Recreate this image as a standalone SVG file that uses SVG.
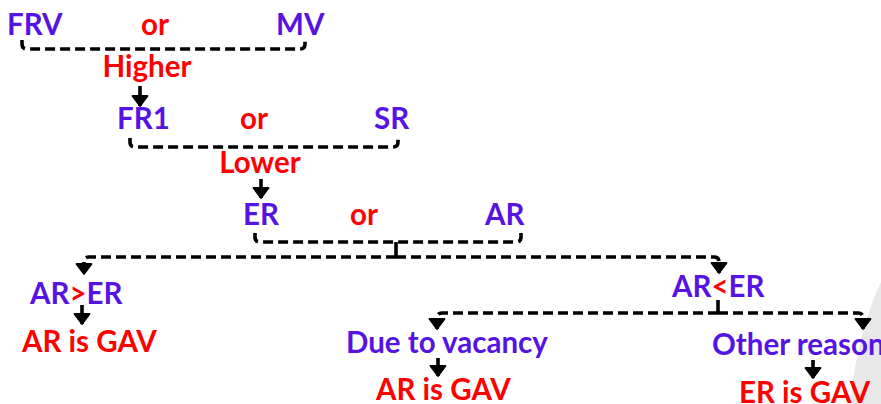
<svg xmlns="http://www.w3.org/2000/svg" width="881" height="404" viewBox="0 0 881 404">
<defs>
<style>
text{font-family:Lato,"Noto Sans","Liberation Sans",sans-serif;font-weight:700;font-size:29.5px}
.p{fill:#5514e4}
.r{fill:#ff0000}
.d{fill:none;stroke:#000;stroke-width:3.6;stroke-dasharray:10 5}
.s{fill:none;stroke:#000;stroke-width:3.6}
</style>
<marker id="ah" markerUnits="userSpaceOnUse" viewBox="-12 -10 14 20" refX="0" refY="0" markerWidth="14" markerHeight="20" orient="auto">
<path d="M0,0 L-10,-7.5 L-10,7.5 Z" fill="#000" stroke="#000" stroke-width="1.8" stroke-linejoin="round"/>
</marker>
</defs>
<rect width="881" height="404" fill="#fff"/>
<path d="M881,282 Q858,330 850,404 H881 Z" fill="#e8e8e8"/>
<g id="connectors">
<path class="d" d="M22,40 V44 Q22,49 27,49 H300 Q305,49 305,44 V40"/>
<path class="s" d="M140,86 V106" marker-end="url(#ah)"/>
<path class="d" d="M130,138 V142 Q130,147 135,147 H393 Q398,147 398,142 V138"/>
<path class="s" d="M261,179 V198" marker-end="url(#ah)"/>
<path class="d" d="M255,233 V237 Q255,242 260,242 H516 Q521,242 521,237 V233"/>
<path class="s" d="M396,242 V257"/>
<path class="d" d="M396,257 H89 Q84,257 84,262 V274" marker-end="url(#ah)"/>
<path class="d" d="M396,257 H714 Q719,257 719,262 V273" marker-end="url(#ah)"/>
<path class="s" d="M82,305 V324" marker-end="url(#ah)"/>
<path class="s" d="M718,300 V313"/>
<path class="d" d="M718,313 H442 Q437,313 437,318 V329" marker-end="url(#ah)"/>
<path class="d" d="M718,313 H858 Q863,313 863,318 V329" marker-end="url(#ah)"/>
<path class="s" d="M438,358 V376" marker-end="url(#ah)"/>
<path class="s" d="M813,360 V378" marker-end="url(#ah)"/>
</g>
<g id="n-frv"><text class="p" x="7" y="35">FRV</text></g>
<g id="n-or1"><text class="r" x="155" y="35" text-anchor="middle">or</text></g>
<g id="n-mv"><text class="p" x="276" y="35">MV</text></g>
<g id="n-higher"><text class="r" x="147" y="77" text-anchor="middle">Higher</text></g>
<g id="n-fr1"><text class="p" x="117" y="129">FR1</text></g>
<g id="n-or2"><text class="r" x="254" y="129" text-anchor="middle">or</text></g>
<g id="n-sr"><text class="p" x="374" y="129">SR</text></g>
<g id="n-lower"><text class="r" x="260" y="173" text-anchor="middle">Lower</text></g>
<g id="n-er"><text class="p" x="243" y="225">ER</text></g>
<g id="n-or3"><text class="r" x="364" y="225" text-anchor="middle">or</text></g>
<g id="n-ar"><text class="p" x="485" y="225">AR</text></g>
<g id="n-argter"><text class="p" x="30" y="304">AR<tspan class="r">&gt;</tspan>ER</text></g>
<g id="n-arlter"><text class="p" x="672" y="297">AR<tspan class="r">&lt;</tspan>ER</text></g>
<g id="n-gav1"><text class="r" x="22" y="352">AR is GAV</text></g>
<g id="n-vacancy"><text class="p" x="346" y="353">Due to vacancy</text></g>
<g id="n-gav2"><text class="r" x="376" y="400">AR is GAV</text></g>
<g id="n-other"><text class="p" x="712" y="355">Other reason</text></g>
<g id="n-gav3"><text class="r" x="739" y="403">ER is GAV</text></g>
</svg>
